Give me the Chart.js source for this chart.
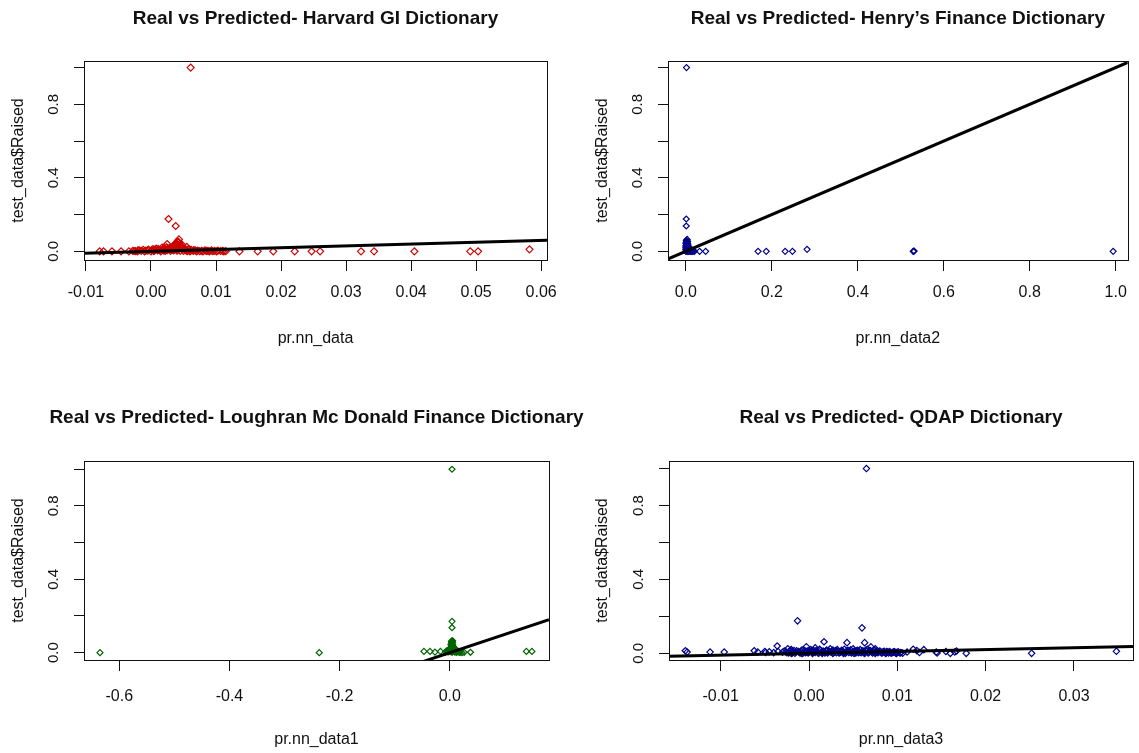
<!DOCTYPE html>
<html>
<head>
<meta charset="utf-8">
<script src="https://cdn.jsdelivr.net/npm/chart.js@4.4.1/dist/chart.umd.min.js"></script>
<style>
  body { margin: 0; background: #fff; }
  #wrap { position: relative; width: 1139px; height: 753px; }
  canvas { position: absolute; }
</style>
</head>
<body>
<div id="wrap">
  <canvas id="harvard" width="569" height="376" style="left:0;top:0"></canvas>
  <canvas id="henry" width="570" height="376" style="left:569px;top:0"></canvas>
  <canvas id="qdap" width="570" height="377" style="left:569px;top:376px"></canvas>
  <canvas id="loughran" width="600" height="377" style="left:0;top:376px"></canvas>
</div>
<script>
// --- data: [prediction, real] ---
const yTicks = [0, 0.2, 0.4, 0.6, 0.8, 1.0];
const yLabels = ['0.0', '', '0.4', '', '0.8', ''];

const harvardTicks = [-0.01, 0, 0.01, 0.02, 0.03, 0.04, 0.05, 0.06];
const harvardLabels = ['-0.01', '0.00', '0.01', '0.02', '0.03', '0.04', '0.05', '0.06'];
const harvard = [
  [0.0061, 1.0], [0.0027, 0.176], [0.0038, 0.138], [0.0043, 0.065], [0.0042, 0.05], [0.0044, 0.04],
  [0.0025, 0.04], [0.0055, 0.025], [0.0035, 0.03], [0.0048, 0.035], [0.0038, 0.045], [0.0041, 0.055],
  [-0.0079, 0], [-0.0073, 0], [-0.0060, 0], [-0.0046, 0], [-0.0034, 0], [-0.0026, 0.002], [-0.0021, 0],
  [-0.0015, 0.003], [-0.0010, 0], [-0.0005, 0.004], [0.0000, 0], [0.0005, 0.003], [0.0010, 0.005],
  [0.0015, 0], [0.0020, 0.004], [0.0025, 0.006], [0.0030, 0.002], [0.0035, 0.005], [0.0040, 0.004],
  [0.0045, 0.003], [0.0050, 0.002], [0.0055, 0.003], [0.0060, 0], [0.0065, 0.002], [0.0070, 0],
  [0.0075, 0.001], [0.0080, 0], [0.0085, 0.002], [0.0090, 0], [0.0095, 0.001], [0.0101, 0],
  [0.0107, 0.002], [0.0112, 0],
  [0.0136, 0], [0.0164, 0], [0.0188, 0], [0.0221, 0], [0.0247, 0], [0.0260, 0], [0.0323, 0],
  [0.0343, 0], [0.0405, 0], [0.0491, 0], [0.0503, 0], [0.0582, 0.011],
  [-0.0020, 0.005], [-0.0012, 0.008], [-0.0004, 0.010], [0.0003, 0.012], [0.0008, 0.015], [0.0012, 0.010],
  [0.0017, 0.020], [0.0021, 0.014], [0.0024, 0.022], [0.0028, 0.018], [0.0031, 0.012], [0.0033, 0.025],
  [0.0036, 0.028], [0.0039, 0.030], [0.0042, 0.032], [0.0046, 0.022], [0.0049, 0.020], [0.0052, 0.015],
  [0.0057, 0.010], [0.0062, 0.008], [0.0068, 0.005], [0.0018, 0.008], [0.0029, 0.012], [0.0037, 0.018],
  [0.0045, 0.026], [0.0053, 0.010], [0.0086, 0.003], [0.0093, 0.005], [0.0103, 0.004],
  [-0.0028, 0.003], [-0.0018, 0.006], [-0.0008, 0.004], [0.0001, 0.007], [0.0006, 0.009], [0.0011, 0.012],
  [0.0014, 0.006], [0.0019, 0.016], [0.0023, 0.010], [0.0026, 0.015], [0.0032, 0.020], [0.0034, 0.008],
  [0.0038, 0.024], [0.0040, 0.040], [0.0043, 0.048], [0.0044, 0.030], [0.0047, 0.016], [0.0051, 0.012],
  [0.0054, 0.007], [0.0058, 0.012], [0.0061, 0.004], [0.0066, 0.007], [0.0072, 0.004], [0.0078, 0.003],
  [0.0083, 0.005], [0.0088, 0.002], [0.0098, 0.003], [0.0110, 0.003], [0.0115, 0.001], [-0.0024, 0.001],
  [0.0004, 0.002], [0.0022, 0.003], [0.0041, 0.008], [0.0056, 0.001]
];
const harvardFit = [-0.0103, 0.0609];

const henryTicks = [0, 0.2, 0.4, 0.6, 0.8, 1.0];
const henryLabels = ['0.0', '0.2', '0.4', '0.6', '0.8', '1.0'];
const henry = [
  [0.0015, 1.0], [0.001, 0.176], [0.001, 0.138], [0.003, 0.065], [0.004, 0.055], [0.002, 0.045],
  [0.005, 0.035], [0.003, 0.03], [0.006, 0.025], [0.008, 0.02], [0.010, 0.015], [0.012, 0.01],
  [0.015, 0.005], [0.018, 0.002], [0.000, 0.02], [0.002, 0.012], [0.004, 0.008], [0.006, 0.005],
  [0.001, 0.003], [0.000, 0], [0.003, 0], [0.007, 0], [0.010, 0], [0.013, 0], [0.020, 0],
  [0.032, 0], [0.046, 0], [0.168, 0], [0.187, 0], [0.231, 0], [0.248, 0], [0.282, 0.011],
  [0.529, 0], [0.530, 0], [0.531, 0.002], [0.994, 0],
  [0.001, 0.06], [0.002, 0.055], [0.003, 0.05], [0.001, 0.04], [0.004, 0.042], [0.002, 0.035],
  [0.005, 0.028], [0.001, 0.028], [0.003, 0.022], [0.007, 0.018], [0.002, 0.018], [0.005, 0.012],
  [0.009, 0.008], [0.001, 0.01], [0.004, 0.004], [0.008, 0.003], [0.011, 0.004], [0.014, 0.002],
  [0.016, 0], [0.005, 0], [0.002, 0.006], [0.000, 0.045], [0.000, 0.03], [0.000, 0.01]
];
const henryFit = [-0.0415, 1.028];

const loughranTicks = [-0.6, -0.4, -0.2, 0];
const loughranLabels = ['-0.6', '-0.4', '-0.2', '0.0'];
const loughran = [
  [0.004, 1.0], [0.004, 0.171], [0.004, 0.136], [0.004, 0.065], [0.003, 0.055], [0.005, 0.045],
  [0.004, 0.035], [0.002, 0.03], [0.006, 0.025], [0.008, 0.018], [0.010, 0.012], [0.012, 0.008],
  [0.015, 0.004], [0.000, 0.02], [-0.002, 0.01], [-0.005, 0.005], [-0.008, 0.003], [0.018, 0.002],
  [0.022, 0], [-0.635, 0], [-0.237, 0], [-0.047, 0.007], [-0.036, 0.007], [-0.027, 0.003],
  [-0.017, 0.007], [-0.006, 0.01], [0.015, 0.007], [0.026, 0.002], [0.0375, 0.002],
  [0.139, 0.007], [0.149, 0.007],
  [0.002, 0.045], [0.005, 0.055], [0.003, 0.04], [0.006, 0.035], [0.001, 0.025], [0.007, 0.03],
  [0.004, 0.02], [0.009, 0.022], [0.002, 0.012], [0.011, 0.016], [0.006, 0.008], [0.013, 0.01],
  [0.001, 0.005], [0.016, 0.006], [0.009, 0.003], [0.019, 0.004], [0.004, 0.002], [0.012, 0.001],
  [-0.003, 0.004], [0.000, 0.008], [0.003, 0.06], [0.005, 0.065]
];
const loughranFit = [-0.664, 0.18];

const qdapTicks = [-0.01, 0, 0.01, 0.02, 0.03];
const qdapLabels = ['-0.01', '0.00', '0.01', '0.02', '0.03'];
const qdap = [
  [0.0065, 1.0], [-0.0013, 0.176], [0.0060, 0.138], [0.0017, 0.063], [0.0043, 0.058], [0.0063, 0.058],
  [-0.0036, 0.040], [-0.0003, 0.036], [0.0007, 0.030], [0.0070, 0.035], [0.0075, 0.025], [-0.0024, 0.025],
  [-0.0020, 0.020], [-0.0140, 0.014], [-0.0138, 0.007], [-0.0112, 0.007], [-0.0096, 0.007], [-0.0062, 0.014],
  [-0.0058, 0.007], [-0.0050, 0.010], [-0.0049, 0.005], [-0.0045, 0.008], [-0.0040, 0.004], [-0.0035, 0.010],
  [-0.0030, 0.006], [-0.0028, 0.012],
  [-0.0025, 0.004], [-0.0022, 0.012], [-0.0019, 0.002], [-0.0017, 0.015], [-0.0015, 0.006], [-0.0012, 0.010],
  [-0.0010, 0.002], [-0.0008, 0.018], [-0.0006, 0.008], [-0.0004, 0.003], [-0.0002, 0.012], [0.0000, 0.006],
  [0.0002, 0.020], [0.0004, 0.002], [0.0006, 0.010], [0.0008, 0.015], [0.0010, 0.004], [0.0012, 0.022],
  [0.0014, 0.008], [0.0016, 0.012], [0.0018, 0.002], [0.0020, 0.018], [0.0022, 0.006], [0.0024, 0.025],
  [0.0026, 0.010], [0.0028, 0.004], [0.0030, 0.015], [0.0032, 0.020], [0.0034, 0.002], [0.0036, 0.008],
  [0.0038, 0.012], [0.0040, 0.022], [0.0042, 0.005], [0.0044, 0.016], [0.0046, 0.010], [0.0048, 0.002],
  [0.0050, 0.025], [0.0052, 0.008], [0.0054, 0.014], [0.0056, 0.004], [0.0058, 0.020], [0.0060, 0.010],
  [0.0062, 0.003], [0.0064, 0.016], [0.0066, 0.022], [0.0068, 0.006], [0.0070, 0.012], [0.0072, 0.002],
  [0.0074, 0.018], [0.0076, 0.008], [0.0078, 0.004], [0.0080, 0.012], [0.0082, 0.002], [0.0084, 0.008],
  [0.0086, 0.005], [0.0088, 0.010], [0.0090, 0.002], [0.0092, 0.006], [0.0094, 0.003], [0.0096, 0.008],
  [0.0098, 0.002], [0.0100, 0.005], [0.0103, 0.002],
  [-0.0026, 0.008], [-0.0023, 0.002], [-0.0021, 0.016], [-0.0018, 0.009], [-0.0016, 0.001], [-0.0014, 0.014],
  [-0.0011, 0.005], [-0.0009, 0.011], [-0.0007, 0.001], [-0.0005, 0.015], [-0.0003, 0.007], [-0.0001, 0.002],
  [0.0001, 0.013], [0.0003, 0.008], [0.0005, 0.016], [0.0007, 0.005], [0.0009, 0.010], [0.0011, 0.001],
  [0.0013, 0.016], [0.0015, 0.005], [0.0017, 0.009], [0.0019, 0.013], [0.0021, 0.002], [0.0023, 0.011],
  [0.0025, 0.006], [0.0027, 0.018], [0.0029, 0.009], [0.0031, 0.003], [0.0033, 0.013], [0.0035, 0.005],
  [0.0037, 0.017], [0.0039, 0.007], [0.0041, 0.001], [0.0043, 0.012], [0.0045, 0.005], [0.0047, 0.019],
  [0.0049, 0.007], [0.0051, 0.012], [0.0053, 0.002], [0.0055, 0.017], [0.0057, 0.009], [0.0059, 0.003],
  [0.0061, 0.014], [0.0063, 0.007], [0.0065, 0.011], [0.0067, 0.002], [0.0069, 0.016], [0.0071, 0.007],
  [0.0073, 0.011], [0.0075, 0.003], [0.0077, 0.014], [0.0079, 0.007], [0.0081, 0.010], [0.0083, 0.004],
  [0.0085, 0.011], [0.0087, 0.002], [0.0089, 0.007], [0.0091, 0.010], [0.0093, 0.001], [0.0095, 0.006],
  [0.0097, 0.009], [0.0099, 0.004], [0.0101, 0.008], [0.0104, 0.004], [0.0106, 0.001],
  [-0.0020, 0], [-0.0008, 0], [0.0004, 0], [0.0015, 0], [0.0027, 0], [0.0039, 0], [0.0051, 0],
  [0.0063, 0], [0.0075, 0], [0.0087, 0], [0.0099, 0],
  [0.0111, 0.007], [0.0118, 0.022], [0.0122, 0.015], [0.0130, 0.020], [0.0125, 0.005], [0.0144, 0.007],
  [0.0145, 0.002], [0.0155, 0.010], [0.0160, 0], [0.0165, 0.007], [0.0167, 0.013], [0.0178, 0],
  [0.0252, 0], [0.0348, 0.011]
];
const qdapFit = [-0.01585, 0.03668];

// --- look ---
const FONT = '"Liberation Sans", Arial, sans-serif';
Chart.defaults.font.family = FONT;
Chart.defaults.color = '#111';

// R style box around the plot region + bold main title over it
const framePlugin = {
  id: 'rframe',
  afterDraw(chart, args, opts) {
    const {ctx, chartArea: a} = chart;
    ctx.save();
    ctx.strokeStyle = '#111';
    ctx.lineWidth = 1;
    ctx.strokeRect(Math.round(a.left) + 0.5, Math.round(a.top) + 0.5, Math.round(a.right - a.left), Math.round(a.bottom - a.top));
    ctx.fillStyle = '#111';
    ctx.font = 'bold 19px ' + FONT;
    ctx.textAlign = 'center';
    ctx.textBaseline = 'middle';
    ctx.fillText(opts.text, (a.left + a.right) / 2, opts.y);
    ctx.restore();
  }
};

function makePanel(p) {
  return new Chart(document.getElementById(p.id), {
    type: 'scatter',
    data: {
      datasets: [
        { data: p.fit.map(v => ({x: v, y: v})), showLine: true, borderColor: '#000', borderWidth: 3, pointRadius: 0 },
        { data: p.pts.map(d => ({x: d[0], y: d[1]})), pointStyle: 'rectRot', pointRadius: p.r,
          borderColor: p.color, backgroundColor: 'rgba(0,0,0,0)', borderWidth: 1.2 }
      ]
    },
    options: {
      responsive: false, animation: false, events: [],
      layout: {padding: {left: 0, right: p.padRight, top: p.top, bottom: 0}},
      plugins: {
        legend: {display: false},
        tooltip: {enabled: false},
        rframe: {text: p.title, y: p.titleY}
      },
      scales: {
        x: {
          type: 'linear', min: p.xMin, max: p.xMax,
          afterBuildTicks: s => { s.ticks = p.xTicks.map(v => ({value: v})); },
          afterFit: s => { s.height = p.xAxisH; },
          grid: {drawOnChartArea: false, tickLength: 11, color: '#111'},
          border: {display: false},
          ticks: {autoSkip: false, maxRotation: 0, padding: p.xTickPad, font: {size: 16}, callback: (v, i) => p.xLabels[i]},
          title: {display: true, text: p.xTitle, font: {size: 16}, padding: {bottom: p.xTitleBottom}}
        },
        y: {
          min: p.yMin, max: p.yMax,
          afterBuildTicks: s => { s.ticks = yTicks.map(v => ({value: v})); },
          afterFit: s => { s.width = p.left; },
          grid: {drawOnChartArea: false, tickLength: 10, color: '#111'},
          border: {display: false},
          ticks: {autoSkip: false, minRotation: 90, maxRotation: 90, crossAlign: 'center', padding: 10,
                  font: {size: 15}, callback: (v, i) => yLabels[i]},
          title: {display: true, text: 'test_data$Raised', font: {size: 16}, padding: {top: p.yTitleLeft}}
        }
      }
    },
    plugins: [framePlugin]
  });
}

makePanel({id: 'harvard', title: 'Real vs Predicted- Harvard GI Dictionary', pts: harvard, fit: harvardFit,
  color: '#cd0000', r: 3.5, xTicks: harvardTicks, xLabels: harvardLabels, xTitle: 'pr.nn_data',
  xMin: -0.0103, xMax: 0.0609, yMin: -0.047, yMax: 1.036,
  left: 84, padRight: 20, top: 61, titleY: 19, xAxisH: 116, xTickPad: 12, xTitleBottom: 28, yTitleLeft: 9});

makePanel({id: 'henry', title: 'Real vs Predicted- Henry\u2019s Finance Dictionary', pts: henry, fit: henryFit,
  color: '#00008b', r: 3, xTicks: henryTicks, xLabels: henryLabels, xTitle: 'pr.nn_data2',
  xMin: -0.0415, xMax: 1.028, yMin: -0.047, yMax: 1.036,
  left: 99, padRight: 7, top: 61, titleY: 19, xAxisH: 116, xTickPad: 12, xTitleBottom: 28, yTitleLeft: 24});

makePanel({id: 'qdap', title: 'Real vs Predicted- QDAP Dictionary', pts: qdap, fit: qdapFit,
  color: '#00008b', r: 3.2, xTicks: qdapTicks, xLabels: qdapLabels, xTitle: 'pr.nn_data3',
  xMin: -0.01585, xMax: 0.03668, yMin: -0.036, yMax: 1.041,
  left: 100, padRight: 6, top: 85, titleY: 42, xAxisH: 93, xTickPad: 16, xTitleBottom: 4, yTitleLeft: 24});

// wider canvas so the long title can run past the plot like in the original
makePanel({id: 'loughran', title: 'Real vs Predicted- Loughran Mc Donald Finance Dictionary', pts: loughran, fit: loughranFit,
  color: '#006400', r: 3, xTicks: loughranTicks, xLabels: loughranLabels, xTitle: 'pr.nn_data1',
  xMin: -0.664, xMax: 0.18, yMin: -0.04, yMax: 1.045,
  left: 84, padRight: 51, top: 85, titleY: 42, xAxisH: 93, xTickPad: 16, xTitleBottom: 4, yTitleLeft: 9});
</script>
</body>
</html>
